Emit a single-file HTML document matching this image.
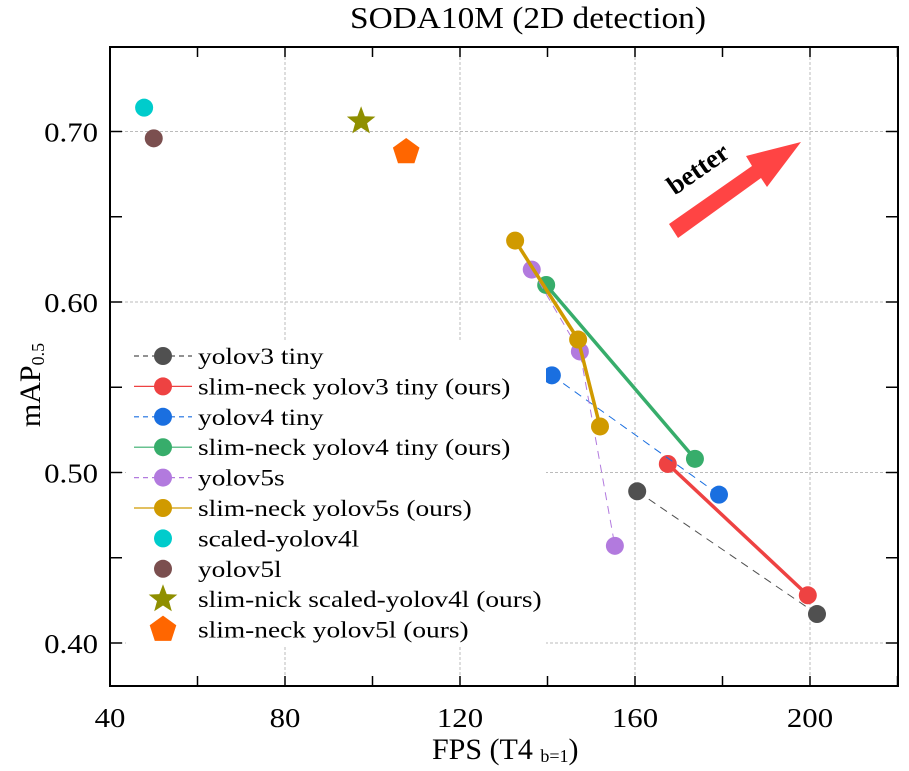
<!DOCTYPE html>
<html><head><meta charset="utf-8"><style>
body{margin:0;background:#fff}
svg{display:block;font-family:"Liberation Serif",serif}
</style></head><body>
<svg id="chart" width="909" height="771">
<text x="350" y="28" font-size="31" textLength="356" lengthAdjust="spacingAndGlyphs">SODA10M (2D detection)</text>
<g id="grid"></g><g id="series"></g>
<rect x="110" y="47" width="788" height="639" fill="none" stroke="#000" stroke-width="2"/>
<g id="axes"></g>
<g>
<polygon points="669,224 752,166 746,156 801,142 767,187 761,178 678,238" fill="#f44"/>
<text x="703" y="176" font-size="27" font-weight="bold" text-anchor="middle" transform="rotate(-35 703 176)">better</text>
</g>
<g id="legend"></g>
<text transform="translate(40 385) rotate(-90)" text-anchor="middle" font-size="30">mAP<tspan font-size="18" dy="4">0.5</tspan></text>
<text x="432" y="759" font-size="30">FPS (T4 <tspan font-size="18" dy="3">b=1</tspan><tspan dy="-3">)</tspan></text>
</svg>
<script>
const xTicks=[40,80,120,160,200];
const yTicks=[0.40,0.50,0.60,0.70];
const yTickLabels=["0.40","0.50","0.60","0.70"];
const names=["yolov3 tiny","slim-neck yolov3 tiny (ours)","yolov4 tiny","slim-neck yolov4 tiny (ours)","yolov5s","slim-neck yolov5s (ours)","scaled-yolov4l","yolov5l","slim-nick scaled-yolov4l (ours)","slim-neck yolov5l (ours)"];
const colors=["#505050","#ee4242","#1a6fe0","#37ad6b","#b27ade","#d09a00","#00cccc","#7b4f4f","#8f8f00","#ff6600"];
const v3x=[160.5,201.6], v3y=[0.489,0.417];
const sv3x=[167.5,199.5], sv3y=[0.505,0.428];
const v4x=[141,179.2], v4y=[0.557,0.487];
const sv4x=[139.7,173.7], sv4y=[0.610,0.508];
const v5x=[136.4,147.4,155.4], v5y=[0.619,0.571,0.457];
const sv5x=[132.6,147,152], sv5y=[0.636,0.578,0.527];
const s4lx=[47.8], s4ly=[0.714];
const v5lx=[50], v5ly=[0.696];
const ss4lx=[97.4], ss4ly=[0.706];
const sv5lx=[107.7], sv5ly=[0.688];
const NS="http://www.w3.org/2000/svg";
const X=v=>110+(v-40)*4.375, Y=v=>643-(v-0.40)*1705;
function mk(t,a,p){const e=document.createElementNS(NS,t);for(const k in a)e.setAttribute(k,a[k]);(p||document.getElementById('series')).appendChild(e);return e;}
function widen(t,f){const w=t.getComputedTextLength();t.setAttribute('textLength',(w*f).toFixed(1));t.setAttribute('lengthAdjust','spacingAndGlyphs');}
const grid=document.getElementById('grid'),axes=document.getElementById('axes');
xTicks.forEach((v,i)=>{
 if(v>40){const g=mk('line',{x1:X(v),x2:X(v),y1:47,y2:686,stroke:'#bbb','stroke-dasharray':'3,2'},grid);
 
 }
 const t=mk('text',{x:X(v),y:727,'text-anchor':'middle','font-size':27},axes);t.textContent=v;widen(t,1.14);
 
 
});
for(let v=40;v<=220;v+=20){mk('line',{x1:X(v),x2:X(v),y1:686,y2:676,stroke:'#000','stroke-width':1.5},axes);mk('line',{x1:X(v),x2:X(v),y1:47,y2:57,stroke:'#000','stroke-width':1.5},axes);}
for(let k=8;k<=14;k++){const v=k*0.05;mk('line',{x1:110,x2:122,y1:Y(v),y2:Y(v),stroke:'#000','stroke-width':1.5},axes);mk('line',{x1:898,x2:886,y1:Y(v),y2:Y(v),stroke:'#000','stroke-width':1.5},axes);}
yTicks.forEach((v,i)=>{
 const g=mk('line',{x1:110,x2:898,y1:Y(v),y2:Y(v),stroke:'#bbb','stroke-dasharray':'3,2'},grid);
 
 
 const t=mk('text',{x:98,y:Y(v)+10,'text-anchor':'end','font-size':27},axes);t.textContent=yTickLabels[i];widen(t,1.14);
 
 
});
const series=[[v3x,v3y,'8,6',1],[sv3x,sv3y,null,3.5],[v4x,v4y,'8,6',1],[sv4x,sv4y,null,3.5],[v5x,v5y,'8,6',1],[sv5x,sv5y,null,3.5],[s4lx,s4ly],[v5lx,v5ly],[ss4lx,ss4ly],[sv5lx,sv5ly]];
function star(cx,cy,r){let p=[];for(let i=0;i<10;i++){const a=-Math.PI/2+i*Math.PI/5,rr=i%2?r*0.42:r;p.push((cx+rr*Math.cos(a)).toFixed(1)+','+(cy+rr*Math.sin(a)).toFixed(1));}return p.join(' ');}
function pent(cx,cy,r){let p=[];for(let i=0;i<5;i++){const a=-Math.PI/2+i*2*Math.PI/5;p.push((cx+r*Math.cos(a)).toFixed(1)+','+(cy+r*Math.sin(a)).toFixed(1));}return p.join(' ');}
function marker(i,cx,cy,p){let e;
 if(i==8)e=mk('polygon',{points:star(cx,cy,15),fill:colors[i]},p);
 else if(i==9)e=mk('polygon',{points:pent(cx,cy,14),fill:colors[i]},p);
 else e=mk('circle',{cx:cx,cy:cy,r:9,fill:colors[i]},p);
 return e;}
series.forEach((s,i)=>{
 const g=mk('g',{});
 
 
 if(s[0].length>1){const l=mk('polyline',{points:s[0].map((x,j)=>X(x)+','+Y(s[1][j])).join(' '),fill:'none',stroke:colors[i],'stroke-width':s[3]},g);if(s[2])l.setAttribute('stroke-dasharray',s[2]);}
 s[0].forEach((x,j)=>{const m=marker(i,X(x),Y(s[1][j]),g);
 
 });
});
const lg=document.getElementById('legend');
mk('rect',{x:126,y:340,width:420,height:306,fill:'#fff'},lg);
names.forEach((n,i)=>{
 const y=356+i*30.4;
 const g=mk('g',{},lg);
 
 
 if(i<6){const l=mk('line',{x1:134,x2:192,y1:y,y2:y,stroke:colors[i],'stroke-width':1.2},g);if(i%2==0)l.setAttribute('stroke-dasharray','5,4');}
 marker(i,163,y,g);
 const t=mk('text',{x:198,y:y+8,'font-size':23},g);t.textContent=n;widen(t,1.19);
});
</script>
</body></html>
